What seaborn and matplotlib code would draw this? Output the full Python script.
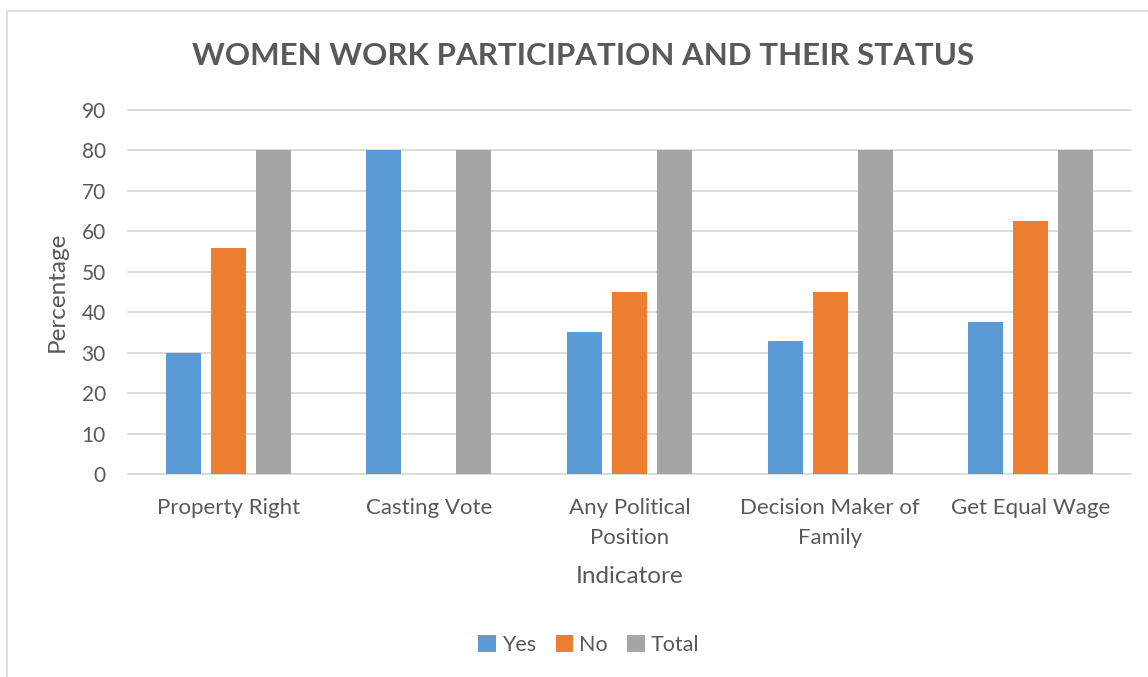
import matplotlib
matplotlib.use("Agg")
import matplotlib.pyplot as plt
import seaborn as sns
import pandas as pd
from matplotlib.patches import Rectangle

categories = ["Property Right", "Casting Vote", "Any Political\nPosition",
              "Decision Maker of\nFamily", "Get Equal Wage"]
yes_vals = [30, 80, 35, 33, 37.5]
no_vals = [56, 0, 45, 45, 62.5]
total_vals = [80, 80, 80, 80, 80]
series = ["Yes", "No", "Total"]
colors = ["#5B9BD5", "#ED7D31", "#A5A5A5"]
yticks = [0, 10, 20, 30, 40, 50, 60, 70, 80, 90]

rows = []
for c, y, n, t in zip(categories, yes_vals, no_vals, total_vals):
    rows += [(c, "Yes", y), (c, "No", n), (c, "Total", t)]
df = pd.DataFrame(rows, columns=["Indicator", "Series", "Value"])

sns.set_theme(style="white")
plt.rcParams["font.family"] = ["Lato", "DejaVu Sans"]
TXT = "#595959"

fig = plt.figure(figsize=(11.48, 6.77), dpi=100)
ax = fig.add_axes([128/1148, 1-474/677, (1131-128)/1148, (474-110)/677])

sns.barplot(data=df, x="Indicator", y="Value", hue="Series", hue_order=series,
            order=categories, palette=colors, width=0.673, gap=0.222,
            edgecolor="none", linewidth=0, saturation=1, ax=ax, legend=True)

ax.set_ylim(0, 90)
ax.set_xlim(-0.5, len(categories) - 0.5)
ax.set_yticks(yticks)
ax.set_yticklabels([str(v) for v in yticks])
ax.yaxis.grid(True, color="#D9D9D9", linewidth=1.3)
for gl in ax.get_ygridlines():
    gl.set_clip_on(False)
ax.set_axisbelow(True)
for s in ax.spines.values():
    s.set_visible(False)
ax.tick_params(axis="both", length=0, labelcolor=TXT)
ax.tick_params(axis="y", pad=16, labelsize=15)
ax.tick_params(axis="x", pad=17, labelsize=16)
for lbl in ax.get_xticklabels():
    lbl.set_linespacing(1.65)

ax.set_xlabel("Indicatore", fontsize=17.5, color=TXT, labelpad=13)
ax.set_ylabel("Percentage", fontsize=17.5, color=TXT, labelpad=10)

fig.text(583/1148, 1-56/677, "WOMEN WORK PARTICIPATION AND THEIR STATUS",
         ha="center", va="center", fontsize=22.5, fontweight="bold", color=TXT)

leg = ax.legend(loc="center", bbox_to_anchor=(589/1148, 1-645/677),
                bbox_transform=fig.transFigure, ncol=3, frameon=False,
                fontsize=15.5, handlelength=0.8, handleheight=0.8,
                handletextpad=0.3, columnspacing=0.9)
for t in leg.get_texts():
    t.set_color(TXT)

# chart-area border
fig.patches.append(Rectangle((7/1148, -0.01), 1.02, 1-11/677 + 0.01,
                             transform=fig.transFigure, fill=False,
                             edgecolor="#D9D9D9", linewidth=1.2))

fig.savefig("out.png", dpi=100, facecolor="white")
